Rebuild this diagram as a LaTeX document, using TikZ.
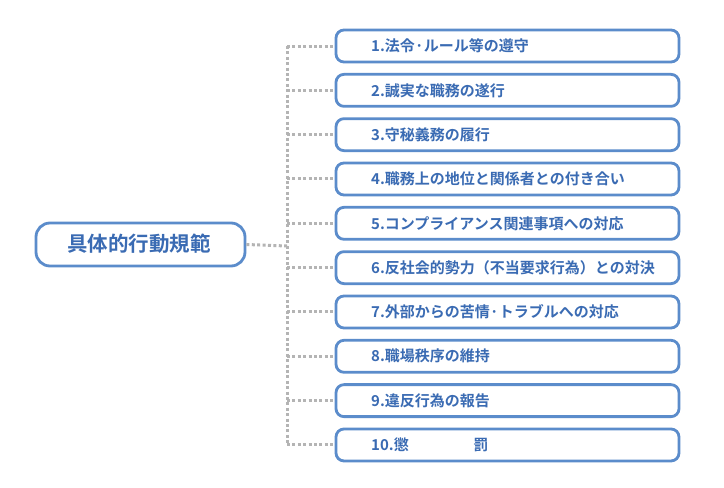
\documentclass[tikz,border=0pt]{standalone}
\usepackage{fontspec}
\setmainfont{Noto Sans CJK JP}[BoldFont={* Bold}]
\newfontfamily\jpb{Noto Sans CJK JP Bold}
\definecolor{boxblue}{HTML}{5B8CCB}
\definecolor{txtblue}{HTML}{3A6BB3}
\definecolor{dotgray}{HTML}{B4B4B4}
\begin{document}
\begin{tikzpicture}[x=1pt,y=-1pt,
  itembox/.style={draw=boxblue,line width=2.8pt,rounded corners=8pt,minimum width=343pt,minimum height=32pt,fill=white,inner sep=0pt},
  mainbox/.style={draw=boxblue,line width=2.8pt,rounded corners=14pt,minimum width=209pt,minimum height=43pt,fill=white,inner sep=0pt},
  itemtxt/.style={text=txtblue,font=\jpb\fontsize{15}{16}\selectfont,anchor=west,inner sep=0pt},
  conn/.style={draw=dotgray,line width=3pt,dash pattern=on 3pt off 2.4pt}]
\useasboundingbox (0,0) rectangle (724,488);
\fill[white] (0,0) rectangle (724,488);
\coordinate (trunkMid) at (287,246);
\node[mainbox] (main) at (140.5,244.5) {};
\node[text=txtblue,font=\jpb\fontsize{20.5}{22}\selectfont] (maintxt) at (139,244) {具体的行動規範};
\foreach \i/\t in {1/{1.法令·ルール等の遵守},2/{2.誠実な職務の遂行},3/{3.守秘義務の履行},4/{4.職務上の地位と関係者との付き合い},5/{5.コンプライアンス関連事項への対応},6/{6.反社会的勢力（不当要求行為）との対決},7/{7.外部からの苦情·トラブルへの対応},8/{8.職場秩序の維持},9/{9.違反行為の報告},10/{10.懲\hspace{4.3em}罰}}{
  \pgfmathsetmacro{\yy}{46+(\i-1)*44.33}
  \node[itembox] (b\i) at (507.5,\yy) {};
  \node[itemtxt] (t\i) at (371,\yy) {\t};
  \coordinate (j\i) at (287,\yy);
  \draw[conn] (j\i) -- (b\i.west);
}
\draw[conn] (j1) -- (j10);
\draw[conn] (main.east) -- (trunkMid);
\end{tikzpicture}
\end{document}
